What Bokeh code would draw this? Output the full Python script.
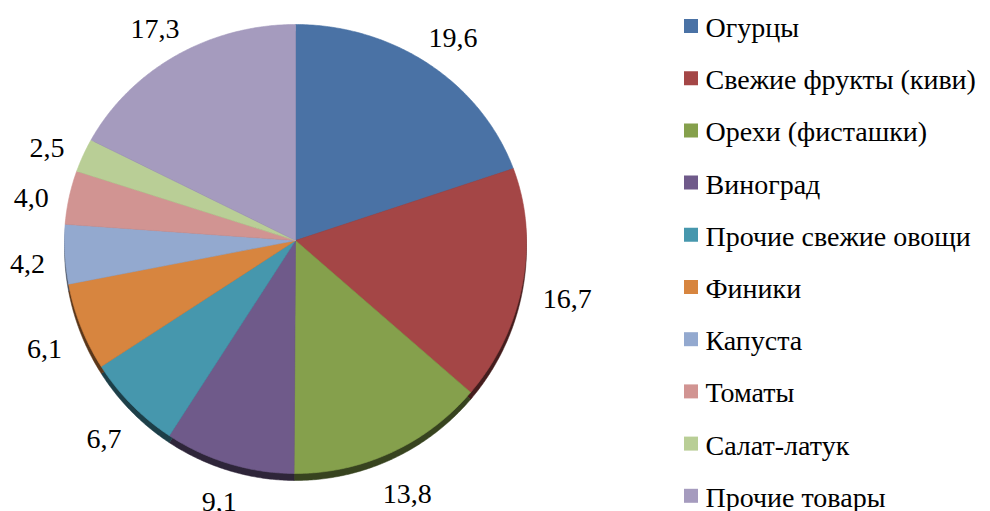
import numpy as np
from bokeh.plotting import figure
from bokeh.models import Range1d
from bokeh.core.properties import value
from bokeh.embed import file_html
from bokeh.resources import INLINE

# ---- data ----
categories = ["Огурцы", "Свежие фрукты (киви)", "Орехи (фисташки)", "Виноград",
              "Прочие свежие овощи", "Финики", "Капуста", "Томаты", "Салат-латук",
              "Прочие товары"]
shares = [19.6, 16.7, 13.8, 9.1, 6.7, 6.1, 4.2, 4.0, 2.5, 17.3]
share_labels = ["19,6", "16,7", "13,8", "9,1", "6,7", "6,1", "4,2", "4,0", "2,5", "17,3"]
colors = ["#4A72A5", "#A44646", "#85A04C", "#6F5A8A", "#4697AD",
          "#D7853F", "#93A9CF", "#D19492", "#B9CE96", "#A59BBE"]

# ---- layout (page pixel coordinates) ----
W, H = 990, 511
CX, CY = 295, 240
RX, RY_TOP, RY_BOT = 231, 216, 233
DEPTH = 7
FONT = value("Liberation Serif")

p = figure(width=W, height=H, x_range=Range1d(0, W), y_range=Range1d(H, 0),
           output_backend="svg", toolbar_location=None, min_border=0)
p.axis.visible = False
p.grid.visible = False
p.outline_line_color = None
p.background_fill_color = "white"


def edge(theta, dy=0.0):
    c = np.cos(theta)
    ry = np.where(c > 0, RY_TOP, RY_BOT)
    return CX + RX * np.sin(theta), CY - ry * c + dy


def darken(hexc, f):
    r, g, b = (int(hexc[i:i + 2], 16) for i in (1, 3, 5))
    return "#%02x%02x%02x" % (int(r * f), int(g * f), int(b * f))


total = float(sum(shares))
fr = np.cumsum([0.0] + shares) / total
starts = fr[:-1] * 2 * np.pi
ends = fr[1:] * 2 * np.pi


def slice_poly(a0, a1, dy=0.0):
    t = np.linspace(a0, a1, max(8, int((a1 - a0) * 120)))
    ex, ey = edge(t, dy)
    return [CX] + list(ex), [CY + dy] + list(ey)


# depth (shadow) layer
sx, sy, sc = [], [], []
for a0, a1, c in zip(starts, ends, colors):
    x, y = slice_poly(a0, a1, DEPTH)
    sx.append(x); sy.append(y); sc.append(darken(c, 0.42))
p.patches(sx, sy, fill_color=sc, line_color=sc, line_width=0.5)

# slice faces
fx, fy = [], []
for a0, a1 in zip(starts, ends):
    x, y = slice_poly(a0, a1)
    fx.append(x); fy.append(y)
p.patches(fx, fy, fill_color=colors, line_color=colors, line_width=0.6)

# data labels outside the slices
mids = (starts + ends) / 2
dx, dyv = np.sin(mids), -np.cos(mids)
hw = np.array([len(s) for s in share_labels]) * 14 * 0.5 - 3
hh = 10
support = hw * np.abs(dx) + hh * np.abs(dyv)
lx = CX + (250 + support) * dx
ly = CY + 8 + (np.where(dyv < 0, 235, 250) + support) * dyv
p.text(x=lx, y=ly, text=share_labels, text_font=FONT, text_font_size="28px",
       text_align="center", text_baseline="middle", text_color="black")

# legend
ly0, lstep = 25.5, 52.2
ys = [ly0 + i * lstep for i in range(len(categories))]
p.rect(x=[690.5] * len(categories), y=ys, width=14, height=14,
       fill_color=colors, line_color=None)
p.text(x=[705] * len(categories), y=[v + 1.5 for v in ys], text=categories,
       text_font=FONT, text_font_size="28px", text_align="left",
       text_baseline="middle", text_color="black")

open("out.html", "w").write(file_html(p, INLINE))
